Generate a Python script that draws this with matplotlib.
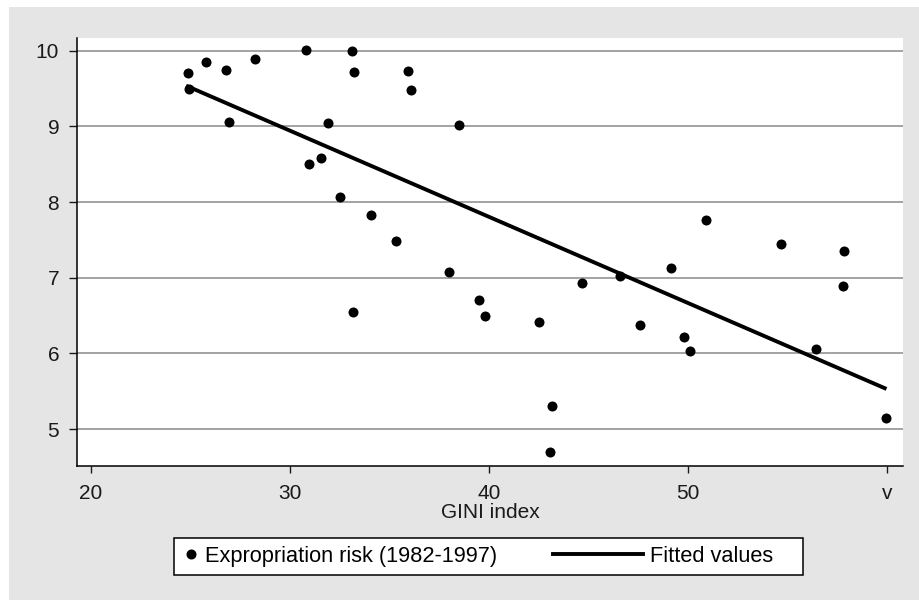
import matplotlib
matplotlib.use("Agg")
import matplotlib.pyplot as plt
import numpy as np
from matplotlib.lines import Line2D
from matplotlib.patches import Rectangle
from matplotlib.legend_handler import HandlerLine2D

plt.rcParams['font.family'] = ['Liberation Sans', 'DejaVu Sans']

# Data: GINI index vs expropriation risk
gini = [24.87, 24.94, 25.78, 26.80, 26.94, 28.26, 30.83, 33.13, 33.21, 35.95,
        36.09, 31.89, 38.49, 31.55, 30.98, 32.51, 34.09, 35.31, 33.15, 37.97,
        39.50, 39.81, 42.52, 43.17, 43.04, 44.69, 46.57, 47.57, 49.13, 49.82,
        50.09, 50.90, 54.66, 56.42, 57.78, 57.83, 59.95]
risk = [9.71, 9.50, 9.85, 9.74, 9.06, 9.89, 10.01, 10.00, 9.72, 9.73,
        9.48, 9.05, 9.02, 8.58, 8.50, 8.07, 7.83, 7.49, 6.55, 7.07,
        6.71, 6.50, 6.42, 5.31, 4.70, 6.93, 7.02, 6.37, 7.13, 6.21,
        6.03, 7.76, 7.45, 6.06, 6.89, 7.35, 5.15]

fit_intercept = 12.36
fit_slope = -0.1139

x_ticks = [20, 30, 40, 50, 60]
x_ticklabels = ['20', '30', '40', '50', 'v']
y_ticks = [5, 6, 7, 8, 9, 10]

fit_x = np.array([min(gini), 59.88])
fit_y = fit_intercept + fit_slope * fit_x


class LongLineHandler(HandlerLine2D):
    # draw the line handle wider than the default handle box (extends to the left)
    def create_artists(self, legend, orig_handle, xdescent, ydescent, width, height, fontsize, trans):
        extra = width * 4.9
        return super().create_artists(legend, orig_handle, xdescent + extra, ydescent,
                                      width + extra, height, fontsize, trans)


fig = plt.figure(figsize=(9.2, 6), dpi=100)
fig.patch.set_facecolor('white')
fig.patches.append(Rectangle((9 / 920, 0), 1 - 9 / 920, 1 - 7 / 600,
                             transform=fig.transFigure, facecolor='#e5e5e5',
                             edgecolor='none', zorder=-10))

ax = fig.add_axes([77 / 920, 1 - 466 / 600, (903 - 77) / 920, (466 - 38) / 600])
ax.set_facecolor('white')

ax.scatter(gini, risk, s=52, color='black', zorder=3, linewidths=0,
           label='Expropriation risk (1982-1997)')
ax.plot(fit_x, fit_y, color='black', lw=2.8, zorder=2, label='Fitted values')

ax.set_xlim(19.30, 60.80)
ax.set_ylim(4.511, 10.168)
ax.set_xticks(x_ticks)
ax.set_xticklabels(x_ticklabels)
ax.set_yticks(y_ticks)
ax.grid(axis='y', color='#949494', lw=1.2, zorder=1)
ax.set_axisbelow(True)

for s in ['top', 'right']:
    ax.spines[s].set_visible(False)
ax.spines['left'].set_linewidth(1.1)
ax.spines['bottom'].set_linewidth(1.1)
ax.tick_params(axis='y', direction='out', length=5.8, width=1, pad=7, labelsize=15, colors='#1a1a1a')
ax.tick_params(axis='x', direction='out', length=5, width=1, pad=8, labelsize=15, colors='#1a1a1a')
ax.set_xlabel('GINI index', fontsize=15, labelpad=0, color='#1a1a1a')

# legend box (Stata style: equal-width columns, framed, below the axis title)
fig.patches.append(Rectangle((174 / 920, 1 - 575 / 600), (803 - 174) / 920, 37 / 600,
                             transform=fig.transFigure, facecolor='white',
                             edgecolor='black', lw=1.1, zorder=1))

handles = [Line2D([], [], ls='none', marker='o', color='black', markersize=6.2),
           Line2D([], [], color='black', lw=2.8)]
labels = ['Expropriation risk (1982-1997)', 'Fitted values']
leg = fig.legend(handles, labels, loc='center left', bbox_to_anchor=(183 / 920, 1 - 556.5 / 600),
                 ncol=2, fontsize=15.7, frameon=False, handlelength=0.7, handletextpad=0.3,
                 columnspacing=6.0, borderpad=0, borderaxespad=0,
                 handler_map={handles[1]: LongLineHandler()})
leg.set_zorder(2)

fig.savefig('out.png', dpi=100)
